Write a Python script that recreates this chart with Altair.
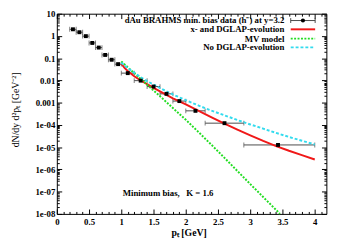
import altair as alt
import pandas as pd

# ---- BRAHMS data (h-) ----
pt_data = [0.25, 0.35, 0.45, 0.55, 0.65, 0.75, 0.85, 0.95, 1.1, 1.3, 1.5, 1.7, 1.9, 2.15, 2.6, 3.43]
pt_lo = [0.2, 0.3, 0.4, 0.5, 0.6, 0.7, 0.8, 0.9, 1.0, 1.2, 1.4, 1.6, 1.8, 2.0, 2.3, 2.9]
pt_hi = [0.3, 0.4, 0.5, 0.6, 0.7, 0.8, 0.9, 1.0, 1.2, 1.4, 1.6, 1.8, 2.0, 2.3, 2.9, 4.0]
y_data = [1.99, 1.47, 0.98, 0.485, 0.30, 0.14, 0.085, 0.054, 0.0213, 0.0098, 0.0053,
          0.0025, 0.00118, 4.3e-4, 1.2e-4, 1.26e-5]

# ---- x- and DGLAP-evolution (red) ----
pt_red = [1.0, 1.05, 1.1, 1.2, 1.3, 1.4, 1.5, 1.6, 1.7, 1.8, 1.9, 2.0, 2.2, 2.4, 2.6,
          2.8, 3.0, 3.2, 3.4, 3.6, 3.8, 4.0]
y_red = [0.0562, 0.0372, 0.0263, 0.0155, 0.0100, 0.00676, 0.00468, 0.00324, 0.00224,
         0.00158, 0.00115, 8.3e-4, 4.27e-4, 2.19e-4, 1.15e-4, 6.2e-5, 3.4e-5, 1.9e-5,
         1.12e-5, 6.9e-6, 4.4e-6, 2.8e-6]

# ---- MV model (green) ----
pt_green = [1.0, 1.2, 1.4, 1.6, 1.8, 2.0, 2.2, 2.4, 2.6, 2.8, 3.0, 3.2, 3.4, 3.46]
y_green = [0.0708, 0.0214, 0.00646, 0.00195, 5.75e-4, 1.70e-4, 4.68e-5, 1.26e-5,
           3.31e-6, 8.5e-7, 2.19e-7, 5.75e-8, 1.51e-8, 1.0e-8]

# ---- No DGLAP-evolution (cyan) ----
pt_cyan = [1.0, 1.1, 1.2, 1.3, 1.4, 1.5, 1.6, 1.7, 1.8, 1.9, 2.0, 2.2, 2.4, 2.6, 2.8,
           3.0, 3.2, 3.4, 3.6, 3.8, 4.0]
y_cyan = [0.0631, 0.0355, 0.0224, 0.0141, 0.00933, 0.00646, 0.00457, 0.00324, 0.00234,
          0.00174, 0.00129, 7.4e-4, 4.37e-4, 2.69e-4, 1.66e-4, 1.05e-4, 6.8e-5, 4.37e-5,
          2.88e-5, 1.95e-5, 1.32e-5]

# ---- ticks ----
x_major = [0, 0.5, 1, 1.5, 2, 2.5, 3, 3.5, 4]
x_minor = [0.1, 0.2, 0.3, 0.4, 0.6, 0.7, 0.8, 0.9, 1.1, 1.2, 1.3, 1.4, 1.6, 1.7, 1.8, 1.9,
           2.1, 2.2, 2.3, 2.4, 2.6, 2.7, 2.8, 2.9, 3.1, 3.2, 3.3, 3.4, 3.6, 3.7, 3.8, 3.9, 4.1]
y_major = [1e-8, 1e-7, 1e-6, 1e-5, 1e-4, 1e-3, 1e-2, 1e-1, 1, 10]
y_minor = [m * d for d in [1e-8, 1e-7, 1e-6, 1e-5, 1e-4, 1e-3, 1e-2, 1e-1, 1]
           for m in [2, 3, 4, 5, 6, 7, 8, 9]]

legend_labels = ["dAu BRAHMS min. bias data (h\u207b) at y=3.2", "x- and DGLAP-evolution",
                 "MV model", "No DGLAP-evolution"]
annotation = "Minimum bias,\u00a0\u00a0\u00a0K = 1.6"
x_title = "p\u209c [GeV]"
y_title = "dN/dy d\u00b2p\u209c [GeV\u207b\u00b2]"

FONT = "Liberation Serif"
RED, GREEN, CYAN, BAR = "#f01818", "#22dd22", "#33dbee", "#4a4a4a"

xs = alt.Scale(domain=[0, 4.18], nice=False, zero=False)
ys = alt.Scale(type="log", domain=[1e-8, 10], nice=False)

common = dict(domain=False, grid=False, tickColor="black", tickWidth=1,
              labelFont=FONT, labelFontSize=9, labelFontWeight="bold",
              labelColor="black", labelOverlap=False, labelFlush=False)

ax_bottom = alt.Axis(orient="bottom", values=x_major, offset=-5, tickSize=5,
                     labelPadding=4, format="~g", title=x_title, titleX=135,
                     titleY=24, titleFont=FONT, titleFontSize=10, titleFontWeight="bold",
                     titleAlign="center", titleBaseline="middle", **common)
ax_left = alt.Axis(orient="left", values=y_major, offset=-5, tickSize=5, labelPadding=2,
                   labelExpr="datum.value >= 0.001 ? format(datum.value, '~g') : "
                             "'1e-0' + (-round(log(datum.value) / LN10))",
                   title=y_title, titleX=-47, titleY=98, titleAngle=-90,
                   titleFont=FONT, titleFontSize=10, titleFontWeight="normal",
                   titleAlign="center", titleBaseline="middle", **common)
ax_top = alt.Axis(orient="top", values=x_major, offset=-5, tickSize=5, labels=False,
                  title=None, **common)
ax_right = alt.Axis(orient="right", values=y_major, offset=-5, tickSize=5, labels=False,
                    title=None, **common)
ax_bottom_minor = alt.Axis(orient="bottom", values=x_minor, offset=-2.5, tickSize=2.5,
                           labels=False, title=None, **common)
ax_left_minor = alt.Axis(orient="left", values=y_minor, offset=-2.5, tickSize=2.5,
                         labels=False, title=None, **common)
ax_top_minor = alt.Axis(orient="top", values=x_minor, offset=-2.5, tickSize=2.5,
                        labels=False, title=None, **common)
ax_right_minor = alt.Axis(orient="right", values=y_minor, offset=-2.5, tickSize=2.5,
                          labels=False, title=None, **common)

df_pts = pd.DataFrame({"pt": pt_data, "lo": pt_lo, "hi": pt_hi, "y": y_data})
df_caps = pd.DataFrame({"pt": pt_lo + pt_hi, "y": y_data + y_data})
df_red = pd.DataFrame({"pt": pt_red, "y": y_red})
df_green = pd.DataFrame({"pt": pt_green, "y": y_green})
df_cyan = pd.DataFrame({"pt": pt_cyan, "y": y_cyan})
one = pd.DataFrame({"k": [0]})

bars = alt.Chart(df_pts).mark_rule(color=BAR, strokeWidth=1).encode(
    x=alt.X("lo:Q", scale=xs, axis=ax_bottom), x2="hi:Q",
    y=alt.Y("y:Q", scale=ys, axis=ax_left))
caps = alt.Chart(df_caps).mark_tick(color=BAR, orient="vertical", size=5, thickness=1).encode(
    x=alt.X("pt:Q", scale=xs, axis=ax_top),
    y=alt.Y("y:Q", scale=ys, axis=ax_right))
cyan = alt.Chart(df_cyan).mark_line(color=CYAN, strokeWidth=2, strokeDash=[3, 2]).encode(
    x=alt.X("pt:Q", scale=xs, axis=None), y=alt.Y("y:Q", scale=ys, axis=None))
green = alt.Chart(df_green).mark_line(color=GREEN, strokeWidth=2, strokeDash=[2, 1.5]).encode(
    x=alt.X("pt:Q", scale=xs, axis=ax_top_minor),
    y=alt.Y("y:Q", scale=ys, axis=ax_right_minor))
red = alt.Chart(df_red).mark_line(color=RED, strokeWidth=2).encode(
    x=alt.X("pt:Q", scale=xs, axis=ax_bottom_minor),
    y=alt.Y("y:Q", scale=ys, axis=ax_left_minor))
pts = alt.Chart(df_pts).mark_point(filled=True, shape="square", size=16, color="black",
                                   opacity=1).encode(
    x=alt.X("pt:Q", scale=xs, axis=None), y=alt.Y("y:Q", scale=ys, axis=None))

# ---- manual legend (gnuplot style: text then sample) ----
row_y = [7, 16, 25.5, 34.5]
lx0, lx1, lxt = 239.5, 264.5, 233
legend_layers = []
for lab, yy in zip(legend_labels, row_y):
    legend_layers.append(alt.Chart(one).mark_text(
        align="right", baseline="middle", font=FONT, fontSize=9, fontWeight="bold",
        color="black", text=lab).encode(x=alt.value(lxt), y=alt.value(yy)))
legend_layers += [
    alt.Chart(one).mark_rule(color=BAR, strokeWidth=1).encode(
        x=alt.value(lx0), x2=alt.value(lx1), y=alt.value(row_y[0])),
    alt.Chart(one).mark_rule(color=BAR, strokeWidth=1).encode(
        x=alt.value(lx0), y=alt.value(row_y[0] - 2.5), y2=alt.value(row_y[0] + 2.5)),
    alt.Chart(one).mark_rule(color=BAR, strokeWidth=1).encode(
        x=alt.value(lx1), y=alt.value(row_y[0] - 2.5), y2=alt.value(row_y[0] + 2.5)),
    alt.Chart(one).mark_point(filled=True, shape="circle", size=18, color="black",
                              opacity=1).encode(
        x=alt.value((lx0 + lx1) / 2), y=alt.value(row_y[0])),
    alt.Chart(one).mark_rule(color=RED, strokeWidth=2).encode(
        x=alt.value(lx0), x2=alt.value(lx1), y=alt.value(row_y[1])),
    alt.Chart(one).mark_rule(color=GREEN, strokeWidth=2, strokeDash=[2, 1.5]).encode(
        x=alt.value(lx0), x2=alt.value(lx1), y=alt.value(row_y[2])),
    alt.Chart(one).mark_rule(color=CYAN, strokeWidth=2, strokeDash=[3, 2]).encode(
        x=alt.value(lx0), x2=alt.value(lx1), y=alt.value(row_y[3])),
]
note = alt.Chart(one).mark_text(align="left", baseline="middle", font=FONT, fontSize=9,
                                fontWeight="bold", color="black", text=annotation).encode(
    x=alt.value(67.5), y=alt.value(184))

chart = alt.layer(bars, caps, red, green, cyan, pts, note, *legend_layers).properties(
    width=276, height=205,
    padding={"left": 50, "top": 3, "right": 16, "bottom": 29},
    autosize=alt.AutoSizeParams(type="none"),
).resolve_axis(x="independent", y="independent").configure_view(
    stroke="black", strokeWidth=1)

chart.save("out.html", embed_options={"renderer": "svg", "actions": False})
